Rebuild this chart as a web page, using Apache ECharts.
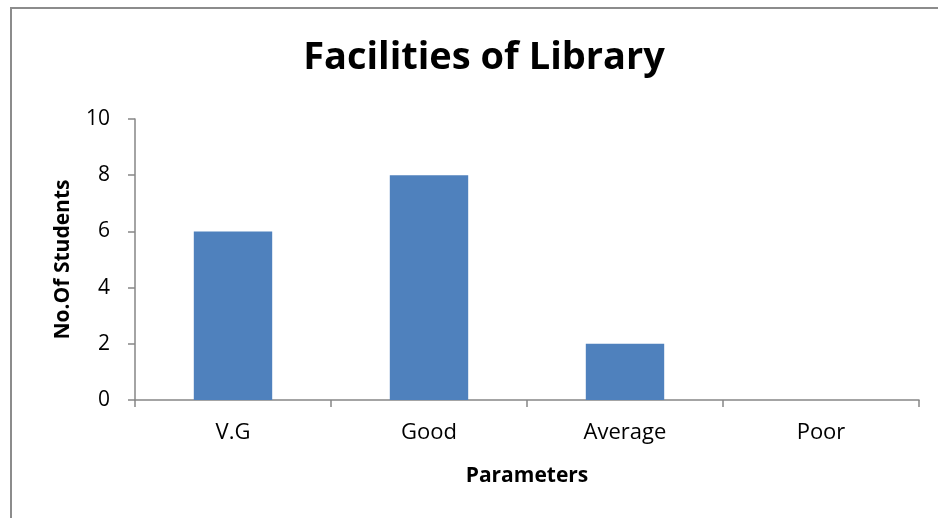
<!DOCTYPE html>
<html>
<head>
<meta charset="utf-8">
<script src="https://cdn.jsdelivr.net/npm/echarts@6/dist/echarts.min.js"></script>
<style>
  html, body { margin: 0; padding: 0; background: #fff; }
  #frame { position: absolute; left: 10px; top: 7px; width: 940px; height: 530px;
           border-left: 2px solid #8c8c8c; border-top: 2px solid #8c8c8c; }
  #main { position: absolute; left: 0; top: 0; width: 938px; height: 518px; }
</style>
</head>
<body>
<div id="frame"></div>
<div id="main"></div>
<script>
// chart data
const categories = ["V.G", "Good", "Average", "Poor"];
const students = [6, 8, 2, 0];
const yTicks = { min: 0, max: 10, interval: 2 };

const font = "Open Sans";
const axisGray = "#868686";

var chart = echarts.init(document.getElementById("main"));
var option = {
  title: {
    text: "Facilities of Library",
    left: 479,
    textAlign: "center",
    top: 34,
    textStyle: { fontFamily: font, fontSize: 38, fontWeight: "bold", color: "#000" }
  },
  grid: { left: 135, right: 19, top: 119, bottom: 118, containLabel: false },
  xAxis: {
    type: "category",
    data: categories,
    name: "Parameters",
    nameLocation: "middle",
    nameGap: 66,
    nameTextStyle: { fontFamily: font, fontSize: 21, fontWeight: "bold", color: "#000" },
    axisLine: { lineStyle: { color: axisGray, width: 1.5 } },
    axisTick: { show: true, length: 7, lineStyle: { color: axisGray, width: 1.5 } },
    axisLabel: { fontFamily: font, fontSize: 22, color: "#000", margin: 22 }
  },
  yAxis: {
    type: "value",
    min: yTicks.min,
    max: yTicks.max,
    interval: yTicks.interval,
    name: "No.Of Students",
    nameLocation: "middle",
    nameGap: 61,
    nameTextStyle: { fontFamily: font, fontSize: 21, fontWeight: "bold", color: "#000" },
    axisLine: { show: true, lineStyle: { color: axisGray, width: 1.5 } },
    axisTick: { show: true, length: 7, lineStyle: { color: axisGray, width: 1.5 } },
    axisLabel: { fontFamily: font, fontSize: 21, color: "#000", margin: 25 },
    splitLine: { show: false }
  },
  series: [
    {
      type: "bar",
      data: students,
      barWidth: "40%",
      itemStyle: { color: "#4F81BD" },
      animation: false
    }
  ]
};

chart.setOption(option);
</script>
</body>
</html>
